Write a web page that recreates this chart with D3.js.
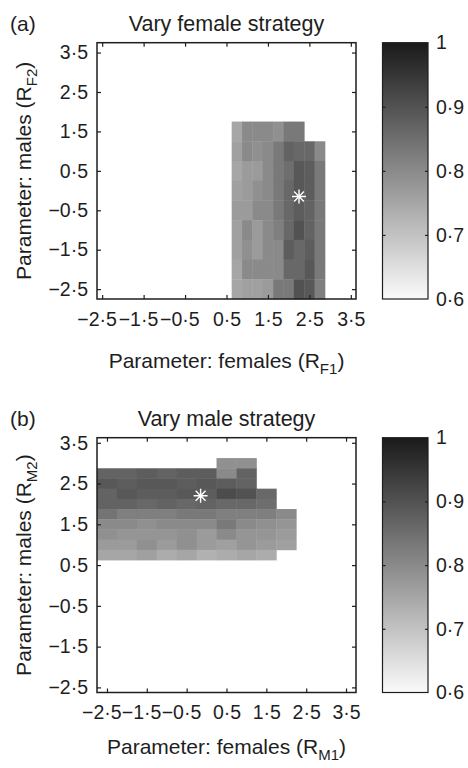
<!DOCTYPE html>
<html><head><meta charset="utf-8">
<script src="https://cdn.jsdelivr.net/npm/d3@7"></script>
<style>
body{margin:0;background:#fff}
svg{display:block}
text{font-family:"Liberation Sans",Arial,Helvetica,sans-serif;fill:#1e1e1e}
</style>
</head><body>
<svg id="chart" width="468" height="768"></svg>
<script>
// ---------- data ----------
const tickValues = [-2.5, -1.5, -0.5, 0.5, 1.5, 2.5, 3.5];
const colorbarTicks = [0.6, 0.7, 0.8, 0.9, 1];
const colorDomain = [0.6, 1];

// Panel (a): vary female strategy
const aX = [0.75, 1, 1.25, 1.5, 1.75, 2, 2.25, 2.5, 2.75];
const aY = [1.5, 1, 0.5, 0, -0.5, -1, -1.5, -2, -2.5];
const aValues = [
  [0.75, 0.80, 0.80, 0.80, 0.79, 0.83, 0.83, null, null],
  [0.76, 0.80, 0.79, 0.80, 0.83, 0.87, 0.86, 0.86, 0.80],
  [0.75, 0.77, 0.77, 0.80, 0.83, 0.85, 0.89, 0.88, 0.83],
  [0.76, 0.77, 0.79, 0.80, 0.83, 0.86, 0.89, 0.88, 0.83],
  [0.77, 0.77, 0.80, 0.80, 0.83, 0.86, 0.88, 0.87, 0.83],
  [0.76, 0.80, 0.77, 0.80, 0.82, 0.86, 0.90, 0.87, 0.83],
  [0.76, 0.79, 0.77, 0.80, 0.80, 0.88, 0.86, 0.88, 0.83],
  [0.75, 0.80, 0.80, 0.80, 0.80, 0.86, 0.86, 0.89, 0.83],
  [0.75, 0.76, 0.76, 0.77, 0.83, 0.83, 0.90, 0.89, 0.82]
];
const aStar = [2.25, -0.15];

// Panel (b): vary male strategy
const bX = [-2.5, -2, -1.5, -1, -0.5, 0, 0.5, 1, 1.5, 2];
const bY = [3, 2.75, 2.5, 2.25, 2, 1.75, 1.5, 1.25, 1, 0.75];
const bValues = [
  [null, null, null, null, null, null, 0.79, 0.79, null, null],
  [0.87, 0.87, 0.88, 0.87, 0.88, 0.88, 0.80, 0.87, null, null],
  [0.89, 0.88, 0.89, 0.89, 0.88, 0.89, 0.88, 0.87, null, null],
  [0.87, 0.89, 0.88, 0.88, 0.89, 0.88, 0.91, 0.90, 0.86, null],
  [0.87, 0.87, 0.86, 0.87, 0.86, 0.87, 0.86, 0.86, 0.85, null],
  [0.84, 0.82, 0.82, 0.82, 0.83, 0.83, 0.82, 0.82, 0.82, 0.80],
  [0.80, 0.80, 0.79, 0.80, 0.80, 0.80, 0.83, 0.80, 0.79, 0.78],
  [0.79, 0.78, 0.78, 0.78, 0.79, 0.77, 0.80, 0.78, 0.78, 0.77],
  [0.77, 0.77, 0.79, 0.77, 0.79, 0.77, 0.76, 0.78, 0.77, 0.76],
  [0.75, 0.75, 0.76, 0.74, 0.75, 0.73, 0.74, 0.75, 0.74, null]
];
const bStar = [-0.15, 2.2];

const panels = [
  {tag: "(a)", title: "Vary female strategy", xs: aX, ys: aY, vals: aValues, star: aStar,
   xlab: "Parameter: females (R", xsub: "F1", ylab: "Parameter: males (R", ysub: "F2",
   top: 42.7, h: 256.3, xlabOff: 68.5},
  {tag: "(b)", title: "Vary male strategy", xs: bX, ys: bY, vals: bValues, star: bStar,
   xlab: "Parameter: females (R", xsub: "M1", ylab: "Parameter: males (R", ysub: "M2",
   top: 437.7, h: 254.8, xlabOff: 61}
];

// ---------- layout ----------
const L = 97, W = 259;
const cbL = 382.5, cbW = 45.5;
const axisColor = "#1e1e1e";
const color = d3.scaleLinear().domain(colorDomain).range(["#fafafa", "#1a1a1a"]);
const fmt = v => d3.format(".1f")(v).replace(".", "\u00b7").replace("-", "\u2212");

const svg = d3.select("#chart");
const defs = svg.append("defs");
const grad = defs.append("linearGradient").attr("id", "cbgrad")
  .attr("x1", 0).attr("y1", 1).attr("x2", 0).attr("y2", 0);
d3.range(0, 1.0001, 0.1).forEach(t => {
  grad.append("stop").attr("offset", t)
    .attr("stop-color", color(colorDomain[0] + t * (colorDomain[1] - colorDomain[0])));
});

function styleAxis(sel, size) {
  sel.select(".domain").remove();
  sel.selectAll(".tick line").attr("stroke", axisColor).attr("stroke-width", 1.2);
  sel.selectAll("text").attr("font-size", size).attr("fill", axisColor)
    .attr("font-family", '"Liberation Sans",Arial,sans-serif');
}

panels.forEach(p => {
  const H = p.h;
  const dx = Math.abs(p.xs[1] - p.xs[0]);
  const dy = Math.abs(p.ys[0] - p.ys[1]);
  const x = d3.scaleLinear()
    .domain([tickValues[0] - dx / 2, tickValues[tickValues.length - 1] + dx / 2])
    .range([0, W]);
  const y = d3.scaleLinear()
    .domain([tickValues[0] - dy / 2, tickValues[tickValues.length - 1] + dy / 2])
    .range([H, 0]);

  const g = svg.append("g").attr("transform", `translate(${L},${p.top})`);

  // cells
  const cells = [];
  p.vals.forEach((row, i) => row.forEach((v, j) => {
    if (v !== null) cells.push({cx: p.xs[j], cy: p.ys[i], v});
  }));
  g.append("g").selectAll("rect").data(cells).join("rect")
    .attr("x", d => x(d.cx - dx / 2))
    .attr("y", d => y(d.cy + dy / 2))
    .attr("width", d => x(d.cx + dx / 2) - x(d.cx - dx / 2) + 0.4)
    .attr("height", d => y(d.cy - dy / 2) - y(d.cy + dy / 2) + 0.4)
    .attr("fill", d => color(d.v));

  // star marker
  const sx = x(p.star[0]), sy = y(p.star[1]), r = 7;
  const starPath = d3.path();
  [0, 45, 90, 135].forEach(a => {
    const rad = a * Math.PI / 180;
    starPath.moveTo(sx - r * Math.cos(rad), sy - r * Math.sin(rad));
    starPath.lineTo(sx + r * Math.cos(rad), sy + r * Math.sin(rad));
  });
  g.append("path").attr("d", starPath.toString()).attr("stroke", "#fff")
    .attr("stroke-width", 1.4).attr("fill", "none");

  // axes
  const xb = g.append("g").attr("transform", `translate(0,${H})`)
    .call(d3.axisBottom(x).tickValues(tickValues).tickSize(-4).tickSizeOuter(0)
      .tickPadding(13).tickFormat(fmt));
  styleAxis(xb, 19.5);
  xb.selectAll("text").attr("dx", d => d < 0 ? "-0.29em" : 0);
  const xt = g.append("g")
    .call(d3.axisTop(x).tickValues(tickValues).tickSize(-4).tickSizeOuter(0).tickFormat(""));
  styleAxis(xt, 0);
  const yl = g.append("g")
    .call(d3.axisLeft(y).tickValues(tickValues).tickSize(-4).tickSizeOuter(0)
      .tickPadding(9).tickFormat(fmt));
  styleAxis(yl, 19.5);
  const yr = g.append("g").attr("transform", `translate(${W},0)`)
    .call(d3.axisRight(y).tickValues(tickValues).tickSize(-4).tickSizeOuter(0).tickFormat(""));
  styleAxis(yr, 0);

  g.append("rect").attr("x", 0).attr("y", 0).attr("width", W).attr("height", H)
    .attr("fill", "none").attr("stroke", axisColor).attr("stroke-width", 1.5);

  // titles and labels
  svg.append("text").attr("x", 10).attr("y", p.top - 12.2).attr("font-size", 21)
    .text(p.tag);
  svg.append("text").attr("x", L + W / 2).attr("y", p.top - 11.5).attr("font-size", 21.5)
    .attr("text-anchor", "middle").text(p.title);

  const xl = svg.append("text").attr("x", L + W / 2).attr("y", p.top + H + p.xlabOff)
    .attr("font-size", 21).attr("text-anchor", "middle");
  xl.append("tspan").text(p.xlab);
  xl.append("tspan").attr("font-size", 15).attr("dy", 6).text(p.xsub);
  xl.append("tspan").attr("dy", -6).text(")");

  const ylab = svg.append("text")
    .attr("transform", `translate(31,${p.top + H / 2}) rotate(-90)`)
    .attr("font-size", 21).attr("text-anchor", "middle");
  ylab.append("tspan").text(p.ylab);
  ylab.append("tspan").attr("font-size", 15).attr("dy", 6).text(p.ysub);
  ylab.append("tspan").attr("dy", -6).text(")");

  // colorbar
  const cy = d3.scaleLinear().domain(colorDomain).range([H, 0]);
  const cb = svg.append("g").attr("transform", `translate(${cbL},${p.top})`);
  cb.append("rect").attr("width", cbW).attr("height", H).attr("fill", "url(#cbgrad)");
  const cbr = cb.append("g").attr("transform", `translate(${cbW},0)`)
    .call(d3.axisRight(cy).tickValues(colorbarTicks).tickSize(-3).tickSizeOuter(0)
      .tickPadding(8).tickFormat(v => v === 1 ? "1" : fmt(v)));
  styleAxis(cbr, 19.5);
  cbr.selectAll(".tick").filter(d => d === 0.6 || d === 1).select("line").remove();
  const cbl = cb.append("g")
    .call(d3.axisLeft(cy).tickValues(colorbarTicks.filter(v => v > 0.6 && v < 1))
      .tickSize(-3).tickSizeOuter(0).tickFormat(""));
  styleAxis(cbl, 0);
  cb.append("rect").attr("width", cbW).attr("height", H).attr("fill", "none")
    .attr("stroke", axisColor).attr("stroke-width", 1.2);
});
</script>
</body></html>
